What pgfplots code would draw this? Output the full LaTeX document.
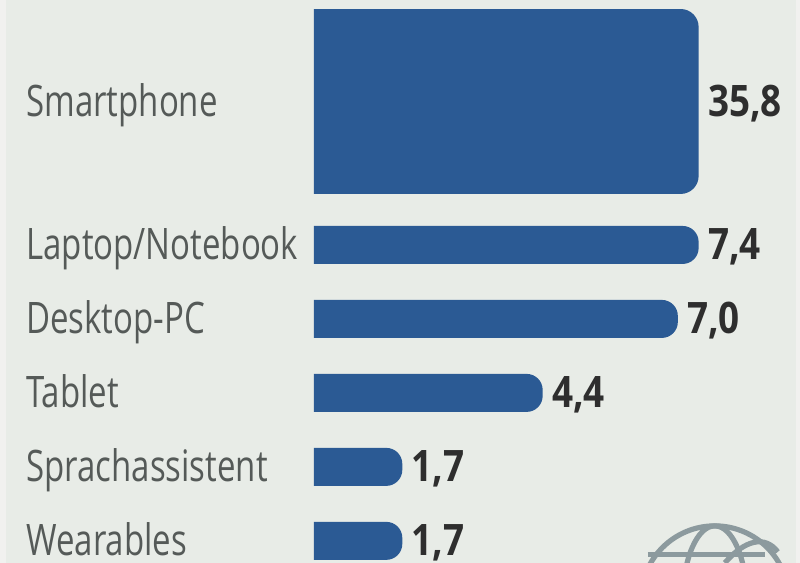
\documentclass[border=0pt]{standalone}
\usepackage{pgfplots}
\usepackage{pgfplotstable}
\usepackage{fontspec}
\pgfplotsset{compat=1.18}
\setmainfont[FakeStretch=0.76]{Open Sans}
\newfontfamily\valfont[FakeStretch=0.85]{Open Sans}
\definecolor{barblue}{HTML}{2B5A94}
\definecolor{panel}{HTML}{E8ECE7}
\definecolor{edge}{HTML}{F1F1EF}
\definecolor{globe}{HTML}{8C9A9E}
\definecolor{labelgray}{HTML}{555A58}

% bar end points (x = length on the chart, y = pixel row of the reference)
% the 35,8 bar is cut to the length of the 7,4 bar in the original
\pgfplotstableread{
x y label
7.4 102 {35,8}
7.4 245 {7,4}
7.0 319 {7,0}
4.4 393 {4,4}
1.7 467 {1,7}
1.7 541 {1,7}
}\valuelabels

\begin{document}
\begin{tikzpicture}
\fill[edge] (0,0) rectangle (400pt,281.5pt);
\fill[panel] (3pt,0) rectangle (398pt,281.5pt);

\begin{axis}[
    at={(157pt,0pt)},
    anchor=south west,
    scale only axis,
    width=243pt,
    height=281.5pt,
    xmin=0, xmax=9.346,
    ymin=0, ymax=563,
    y dir=reverse,
    axis line style={draw=none},
    major tick length=0pt,
    xtick=\empty,
    ytick={102,245,319,393,467,541},
    yticklabels={Smartphone,Laptop/Notebook,Desktop-PC,Tablet,Sprachassistent,Wearables},
    y tick label style={anchor=base west, xshift=-144pt, yshift=-7.5pt,
        font=\fontsize{21.7}{24}\selectfont, text=labelgray, inner sep=0pt},
    every axis plot/.append style={fill=barblue, draw=none, mark=none},
]
\addplot[rounded corners=9pt] coordinates {(-1,9)(7.4,9)(7.4,194)(-1,194)} --cycle;
\addplot[rounded corners=8pt] coordinates {(-1,226)(7.4,226)(7.4,264)(-1,264)} --cycle;
\addplot[rounded corners=8pt] coordinates {(-1,300)(7.0,300)(7.0,338)(-1,338)} --cycle;
\addplot[rounded corners=8pt] coordinates {(-1,374)(4.4,374)(4.4,412)(-1,412)} --cycle;
\addplot[rounded corners=8pt] coordinates {(-1,448)(1.7,448)(1.7,486)(-1,486)} --cycle;
\addplot[rounded corners=8pt] coordinates {(-1,522)(1.7,522)(1.7,560)(-1,560)} --cycle;

\addplot[draw=none, fill=none, nodes near coords, point meta=explicit symbolic,
    every node near coord/.style={anchor=west, inner sep=0pt, xshift=4.5pt, yshift=-1pt,
        font=\valfont\bfseries\fontsize{21.7}{24}\selectfont, text=black!82}]
    table[x=x, y=y, meta=label] {\valuelabels};
\end{axis}

% globe icon, cut off by the lower edge
\begin{scope}
\clip (0,0) rectangle (400pt,281.5pt);
\begin{scope}[x=0.5pt, y=-0.5pt, yshift=281.5pt, draw=globe, line width=2.6pt]
\draw (715,600) circle[radius=74];
\draw (715,600) ellipse[x radius=32, y radius=74];
\draw (648,555) -- (765,555);
\draw (725,563) .. controls (745,540) and (765,535) .. (778,552);
\end{scope}
\end{scope}
\end{tikzpicture}
\end{document}
